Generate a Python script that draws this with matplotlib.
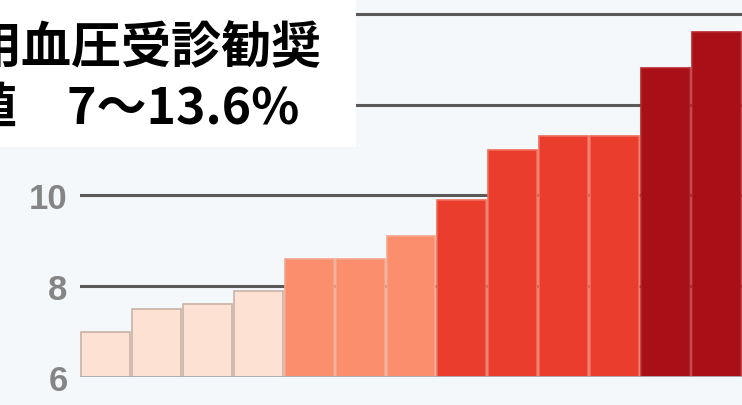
import numpy as np
import matplotlib.pyplot as plt
from matplotlib.patches import Rectangle

# values (percent)
values = [7.0, 7.5, 7.6, 7.9, 8.6, 8.6, 9.1, 9.9, 11.0, 11.3, 11.3, 12.8, 13.6]
yticks = [6, 8, 10, 12, 14]
title_lines = ["用血圧受診勧奨", "値　7～13.6%"]

# colour classes
class_edges = [8, 9.5, 12]
palette = ["#fde1d3", "#fb8e6c", "#eb3d2d", "#a90f17"]
edge_cols = ["#c9b2a6", "#f3a68c", "#f06b5a", "#b8262c"]

bg = "#f5f8fb"

fig = plt.figure(figsize=(7.42, 4.06), dpi=100)
fig.patch.set_facecolor(bg)
ax = fig.add_axes([80 / 742, 28 / 406, 662 / 742, 378 / 406])
ax.set_facecolor(bg)

ax.set_xlim(-0.5, len(values) - 0.5)
ax.set_ylim(6, 6 + 378 / 45.4)

for t in yticks[1:]:
    ax.axhline(t, color="#5a5a5a", lw=2.2, zorder=1)
ax.axhline(6, color="#a9b0b8", lw=2, zorder=3)

cls = np.digitize(values, class_edges)
x = np.arange(len(values))
ax.bar(x, np.array(values) - 6, bottom=6, width=0.96,
       color=[palette[c] for c in cls],
       edgecolor=[edge_cols[c] for c in cls], linewidth=1.2, zorder=2)

ax.set_yticks(yticks)
ax.set_yticklabels([str(t) for t in yticks], fontfamily="Liberation Sans",
                   fontweight="bold", fontsize=25, color="#858585")
ax.tick_params(axis="y", length=0, pad=9)
ax.set_xticks([])
for s in ax.spines.values():
    s.set_visible(False)

# white caption box in the top-left corner
fig.add_artist(Rectangle((0, 1 - 148 / 406), 356 / 742, 148 / 406,
                         transform=fig.transFigure, facecolor="white",
                         edgecolor="none", zorder=10))
fig.text(-28 / 742, 1 - 63 / 406, title_lines[0], fontsize=36,
         fontweight="bold", family=["Noto Sans CJK JP", "DejaVu Sans"],
         va="baseline", ha="left", zorder=11)
fig.text(-33 / 742, 1 - 124 / 406, title_lines[1], fontsize=36,
         fontweight="bold", family=["Noto Sans CJK JP", "DejaVu Sans"],
         va="baseline", ha="left", zorder=11)

fig.savefig("out.png", dpi=100, facecolor=bg)
